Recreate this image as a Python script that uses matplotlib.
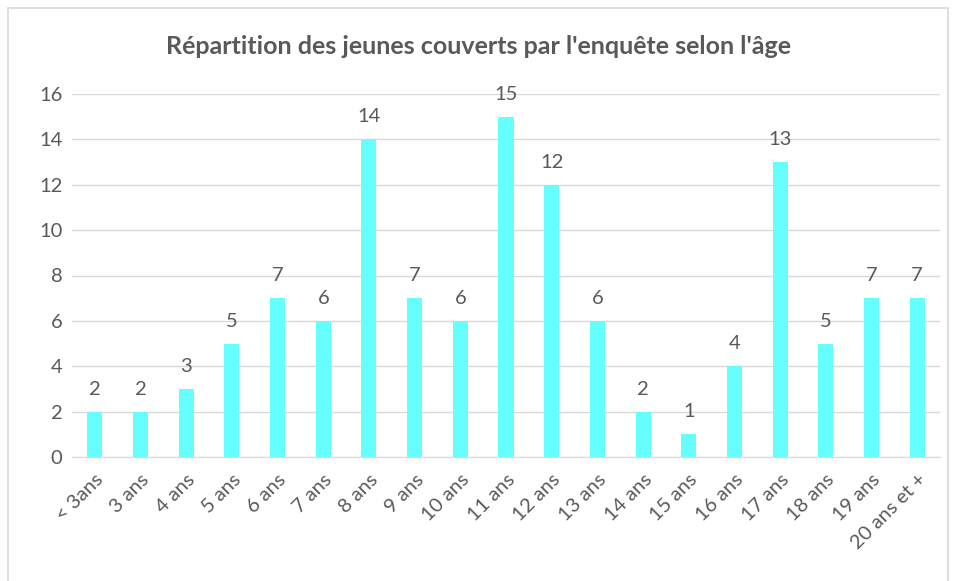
import matplotlib
matplotlib.use('Agg')
import matplotlib.pyplot as plt
from matplotlib.patches import Rectangle

# effectifs par tranche d'âge
ages = ['< 3ans', '3 ans', '4 ans', '5 ans', '6 ans', '7 ans', '8 ans', '9 ans',
        '10 ans', '11 ans', '12 ans', '13 ans', '14 ans', '15 ans', '16 ans',
        '17 ans', '18 ans', '19 ans', '20 ans et +']
effectifs = [2, 2, 3, 5, 7, 6, 14, 7, 6, 15, 12, 6, 2, 1, 4, 13, 5, 7, 7]

gris = '#595959'
plt.rcParams['font.family'] = ['Lato', 'DejaVu Sans']

fig = plt.figure(figsize=(9.58, 5.81), dpi=100)
# cadre du graphique
fig.patches.append(Rectangle((8 / 958, -0.05), 940 / 958, 1 - 8 / 581 + 0.05,
                             transform=fig.transFigure, fill=False,
                             edgecolor='#D9D9D9', linewidth=1.2))

ax = fig.add_axes([72 / 958, 1 - 457 / 581, 868 / 958, 363 / 581])
x = range(len(ages))
barres = ax.bar(x, effectifs, width=0.33, color='#66FFFF')
ax.bar_label(barres, padding=10, color=gris, fontsize=14.5)

ax.set_xlim(-0.5, len(ages) - 0.5)
ax.set_ylim(0, 16)
ax.set_yticks(range(0, 17, 2))
ax.yaxis.grid(True, color='#D9D9D9', linewidth=1)
ax.set_axisbelow(True)
for s in ['top', 'right', 'left']:
    ax.spines[s].set_visible(False)
ax.spines['bottom'].set_color('#D9D9D9')
ax.tick_params(axis='y', length=0, pad=7, labelcolor=gris, labelsize=14.5)
ax.tick_params(axis='x', length=0, pad=10, labelcolor=gris, labelsize=14.5)
ax.set_xticks(list(x))
ax.set_xticklabels(ages, rotation=45, ha='right', rotation_mode='anchor')

fig.text(0.5, 1 - 46 / 581, "Répartition des jeunes couverts par l'enquête selon l'âge",
         ha='center', va='center', fontsize=18, fontweight='bold', color=gris)

fig.savefig('out.png', dpi=100)
